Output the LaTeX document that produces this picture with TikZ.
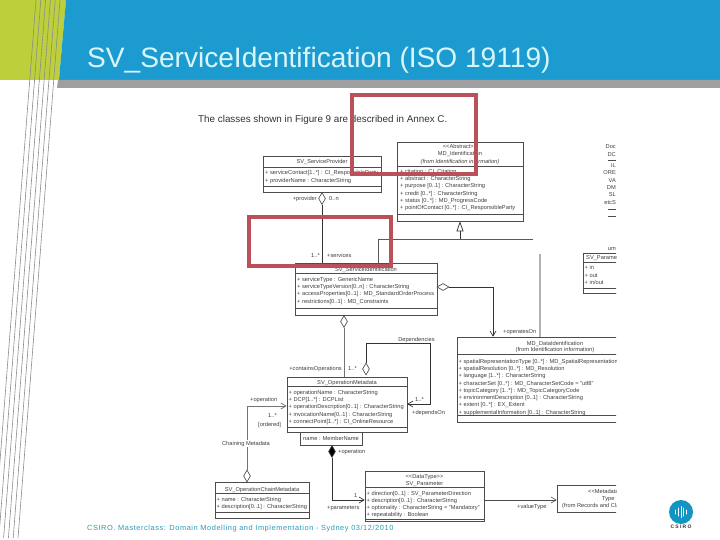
\documentclass[tikz,border=0pt]{standalone}
\usepackage{fontspec}
\setmainfont{Liberation Sans}
\usepackage{xcolor}
\usetikzlibrary{shapes.geometric, arrows.meta, positioning}

\definecolor{slideblue}{HTML}{1B9BD0}
\definecolor{slidegreen}{HTML}{BDCF3B}
\definecolor{slidegray}{HTML}{A09EA0}
\definecolor{titlecyan}{HTML}{D8F6FA}
\definecolor{footteal}{HTML}{2A9BB8}
\definecolor{logoblue}{HTML}{1295C2}
\definecolor{markred}{HTML}{B9505A}

\tikzset{
  classbox/.style={draw=black!70, line width=0.7pt, fill=white, inner sep=0pt},
  classline/.style={draw=black!70, line width=0.6pt},
  classtext/.style={font=\fontsize{5.7}{6}\selectfont, text=black!75, inner sep=0pt, anchor=base},
  attrtext/.style={classtext, anchor=base west},
  rolename/.style={classtext},
  opendiamond/.style={shape=diamond, draw=black!75, fill=white, line width=0.6pt, inner sep=0pt, minimum width=7pt, minimum height=12pt},
  fulldiamond/.style={opendiamond, fill=black},
  assoc/.style={draw=black!80, line width=0.7pt},
  assocgray/.style={draw=black!55, line width=0.8pt},
  openhead/.style={-{Straight Barb[length=5pt,width=6pt]}},
  redmark/.style={draw=markred, line width=4pt, inner sep=0pt}
}

\begin{document}
\begin{tikzpicture}[x=1pt,y=-1pt]
\useasboundingbox (0,0) rectangle (720,540);

% ========== slide background ==========
\fill[white] (0,0) rectangle (720,540);
\fill[slidegreen] (0,0) -- (66,0) -- (59,80) -- (0,80) -- cycle;
\fill[slideblue] (66,0) -- (720,0) -- (720,80) -- (59,80) -- cycle;
\fill[slidegray] (58,80) -- (720,80) -- (720,88) -- (57,88) -- cycle;
\foreach \i in {0,...,5} {
  \draw[black!45, line width=0.6pt] (60-\i*4.8,0) -- (18-\i*4.8,538);
}
\node[font=\fontsize{28.1}{30}\selectfont, text=titlecyan, anchor=base west, inner sep=0pt] (slidetitle) at (87,67.5) {SV\_ServiceIdentification (ISO 19119)};
\node[font=\fontsize{9.85}{11}\selectfont, text=black!80, anchor=base west, inner sep=0pt] (intro) at (198,122.5) {The classes shown in Figure 9 are described in Annex C.};

% ========== class boxes ==========
\node[classbox, minimum width=118pt, minimum height=36pt] (provider) at (322,174) {};
\node[classbox, minimum width=126pt, minimum height=79pt] (mdident) at (460,181.5) {};
\node[classbox, minimum width=142pt, minimum height=52pt] (service) at (366,289) {};
\node[classbox, minimum width=120pt, minimum height=55pt] (operation) at (347,404.5) {};
\node[classbox, classtext, anchor=center, minimum width=62pt, minimum height=13pt] (membername) at (331,438.5) {name : MemberName};
\node[classbox, minimum width=94pt, minimum height=36pt] (chain) at (262,500) {};
\node[classbox, minimum width=119pt, minimum height=50pt] (parameter) at (424.5,496) {};

% Compartment rules
\draw[classline] (263,167) -- (381,167) (263,186) -- (381,186);
\draw[classline] (397,166) -- (523,166) (397,214) -- (523,214);
\draw[classline] (295,273) -- (437,273) (295,308) -- (437,308);
\draw[classline] (287,386) -- (407,386) (287,427) -- (407,427);
\draw[classline] (215,493) -- (309,493) (215,512) -- (309,512);
\draw[classline] (365,487) -- (484,487) (365,519) -- (484,519);

% SV_ServiceProvider
\node[classtext] (providername) at (322,164) {SV\_ServiceProvider};
\foreach \txt [count=\i] in {{+ serviceContact[1..*] : CI\_ResponsibleParty}, {+ providerName : CharacterString}} {
  \node[attrtext] (providerattr\i) at (265,{167.8+\i*7.2}) {\txt};
}

% MD_Identification
\node[classtext] (mdstereo) at (460,149) {<{}<Abstract>{}>};
\node[classtext] (mdname) at (460,156) {MD\_Identification};
\node[classtext, font=\fontsize{5.7}{6}\itshape] (mdfrom) at (460,164) {(from Identification information)};
\foreach \txt [count=\i] in {{+ citation : CI\_Citation}, {+ abstract : CharacterString}, {+ purpose [0..1] : CharacterString}, {+ credit [0..*] : CharacterString}, {+ status [0..*] : MD\_ProgressCode}, {+ pointOfContact [0..*] : CI\_ResponsibleParty}} {
  \node[attrtext] (mdattr\i) at (400,{166+\i*7.3}) {\txt};
}

% SV_ServiceIdentification
\node[classtext] (servicename) at (366,271) {SV\_ServiceIdentification};
\foreach \txt [count=\i] in {{+ serviceType : GenericName}, {+ serviceTypeVersion[0..n] : CharacterString}, {+ accessProperties[0..1] : MD\_StandardOrderProcess}, {+ restrictions[0..1] : MD\_Constraints}} {
  \node[attrtext] (serviceattr\i) at (297,{274+\i*7.3}) {\txt};
}

% SV_OperationMetadata
\node[classtext] (operationname) at (347,384.5) {SV\_OperationMetadata};
\foreach \txt [count=\i] in {{+ operationName : CharacterString}, {+ DCP[1..*] : DCPList}, {+ operationDescription[0..1] : CharacterString}, {+ invocationName[0..1] : CharacterString}, {+ connectPoint[1..*] : CI\_OnlineResource}} {
  \node[attrtext] (operationattr\i) at (288.5,{387+\i*7.3}) {\txt};
}

% SV_OperationChainMetadata
\node[classtext] (chainname) at (262,491) {SV\_OperationChainMetadata};
\foreach \txt [count=\i] in {{+ name : CharacterString}, {+ description[0..1] : CharacterString}} {
  \node[attrtext] (chainattr\i) at (216.5,{494+\i*7.2}) {\txt};
}

% SV_Parameter
\node[classtext] (paramstereo) at (424.5,478) {<{}<DataType>{}>};
\node[classtext] (paramname) at (424.5,485) {SV\_Parameter};
\foreach \txt [count=\i] in {{+ direction[0..1] : SV\_ParameterDirection}, {+ description[0..1] : CharacterString}, {+ optionality : CharacterString = "Mandatory"}, {+ repeatability : Boolean}} {
  \node[attrtext] (paramattr\i) at (366.5,{488+\i*7.2}) {\txt};
}

% ========== boxes cut by the right edge of the figure ==========
\begin{scope}
  \clip (0,0) rectangle (616,540);
  \node[classbox, minimum width=183pt, minimum height=85pt] (dataident) at (548.5,379.5) {};
  \node[classbox, minimum width=83pt, minimum height=27pt] (typebox) at (598.5,498.5) {};
  \node[classbox, minimum width=57pt, minimum height=40pt] (enumbox) at (611.5,273) {};
  \draw[classline] (457,354) -- (640,354) (457,415) -- (640,415);
  \draw[classline] (583,262) -- (640,262) (583,288) -- (640,288);

  \node[classtext] (dataname) at (555,345) {MD\_DataIdentification};
  \node[classtext] (datafrom) at (555,351.5) {(from Identification information)};
  \foreach \txt [count=\i] in {{+ spatialRepresentationType [0..*] : MD\_SpatialRepresentationTypeCode}, {+ spatialResolution [0..*] : MD\_Resolution}, {+ language [1..*] : CharacterString}, {+ characterSet [0..*] : MD\_CharacterSetCode = "utf8"}, {+ topicCategory [1..*] : MD\_TopicCategoryCode}, {+ environmentDescription [0..1] : CharacterString}, {+ extent [0..*] : EX\_Extent}, {+ supplementalInformation [0..1] : CharacterString}} {
    \node[attrtext] (dataattr\i) at (458.5,{356+\i*7.25}) {\txt};
  }

  \node[attrtext] (typestereo) at (588,493) {<{}<Metadata>{}>};
  \node[attrtext] (typename) at (602,500) {Type};
  \node[attrtext] (typefrom) at (562,507.5) {(from Records and Class};

  \node[classtext, anchor=base east] (enumstereo) at (616,251) {um};
  \node[attrtext] (enumname) at (586,259.5) {SV\_Parameter};
  \foreach \txt [count=\i] in {{+ in}, {+ out}, {+ in/out}} {
    \node[attrtext] (enumattr\i) at (584.5,{262.5+\i*7.4}) {\txt};
  }
\end{scope}

% Scraps of a further class at the right edge
\foreach \txt [count=\i] in {Doc, DC, IL, ORE, VA, DM, SL, etcS} {
  \ifnum\i>2
    \node[classtext, anchor=base east] (scrap\i) at (616,{152.5+(\i-1)*7.4}) {\txt};
  \else
    \node[classtext, anchor=base east] (scrap\i) at (616,{141+\i*7.7}) {\txt};
  \fi
}
\foreach \ry in {160,209,216} {
  \draw[classline] (608,\ry) -- (616,\ry);
}

% ========== connectors ==========
% Provider to service
\node[opendiamond] (providerdia) at (322,198.5) {};
\draw[assoc] (providerdia.south) -- (providerdia.south |- service.north);
\node[rolename, anchor=base east] (providerrole) at (317,201) {+provider};
\node[rolename, anchor=base west] (providermult) at (329,201) {0..n};
\node[rolename, anchor=base east] (servicesmult) at (320,258) {1..*};
\node[rolename, anchor=base west] (servicesrole) at (327,258) {+services};

% Generalisation into MD_Identification
\coordinate (genbar) at (460,239);
\coordinate (genleft) at (378,239);
\coordinate (genright) at (533,239);
\coordinate (sidetop) at (540,254);
\draw[assoc, -{Triangle[open, length=10pt, width=7pt, fill=white]}] (genbar) -- (genbar |- mdident.south);
\draw[assoc, draw=black!65] (genleft |- service.north) -- (genleft) -- (genright);
\draw[assocgray, line width=1.1pt, draw=black!30] (sidetop) -- (sidetop |- dataident.north);

% Service to data identification
\node[opendiamond, minimum width=12pt, minimum height=7pt] (operatesdia) at (443,287) {};
\coordinate (operatesbend) at (493,287);
\draw[assoc, openhead] (operatesdia.east) -- (operatesbend) -- (operatesbend |- dataident.north);
\node[rolename, anchor=base west] (operatesrole) at (503,333) {+operatesOn};

% Service to operations
\node[opendiamond] (containsdia) at (344,321.5) {};
\draw[assocgray] (containsdia.south) -- (containsdia.south |- operation.north);
\node[rolename, anchor=base east] (containsrole) at (342,370) {+containsOperations};
\node[rolename, anchor=base west] (containsmult) at (348,370) {1..*};

% Dependencies loop
\node[opendiamond] (dependsdia) at (366,369) {};
\coordinate (loopleft) at (366,343);
\coordinate (loopright) at (430,343);
\coordinate (loopend) at (430,404);
\draw[assoc, openhead] (dependsdia.north) -- (loopleft) -- (loopright) -- (loopend) -- (loopend -| operation.east);
\node[rolename] (dependslabel) at (416.5,341) {Dependencies};
\node[rolename, anchor=base west] (dependsmult) at (415,401) {1..*};
\node[rolename, anchor=base west] (dependsrole) at (412,414) {+dependsOn};

% Operation chain
\node[opendiamond] (chaindia) at (247,476) {};
\coordinate (chainbend) at (247,406);
\draw[assocgray, openhead] (chaindia.north) -- (chainbend) -- (chainbend -| operation.west);
\node[rolename, anchor=base west] (chainrole) at (250,401) {+operation};
\node[rolename, anchor=base west] (chainmult) at (268,417) {1..*};
\node[rolename, anchor=base west] (chainorder) at (258,426) {[ordered]};
\node[rolename, anchor=base, fill=white, inner sep=1pt] (chainlabel) at (246,445) {Chaining Metadata};

% Operation to parameter
\node[fulldiamond] (paramdia) at (332,451.5) {};
\coordinate (parambend) at (332,500);
\draw[assoc, openhead] (paramdia.south) -- (parambend) -- (parambend -| parameter.west);
\node[rolename, anchor=base west] (paramrole) at (338,453) {+operation};
\node[rolename, anchor=base west] (parammult) at (354,497) {1};
\node[rolename, anchor=base west] (paramrole2) at (327,509) {+parameters};

% Parameter to type
\coordinate (typeend) at (484,500);
\draw[assocgray, line width=0.6pt, draw=black!70, openhead] (typeend) -- (typeend -| typebox.west);
\node[rolename, anchor=base west] (typerole) at (517,508) {+valueType};

% ========== red highlight frames ==========
\node[redmark, minimum width=124pt, minimum height=79pt] (markupper) at (414,134.5) {};
\node[redmark, minimum width=142pt, minimum height=49pt] (marklower) at (320,241.5) {};

% ========== footer ==========
\node[font=\fontsize{7.4}{9}\selectfont\addfontfeatures{LetterSpace=7.7}, text=footteal, anchor=base west, inner sep=0pt] (footer) at (87,530) {CSIRO. Masterclass: Domain Modelling and Implementation - Sydney 03/12/2010};
\fill[logoblue] (681,512) circle (12);
\foreach \bx/\bh in {-5.5/2, -2.8/4, 0/5.5, 2.8/4, 5.5/2} {
  \draw[white, line width=1pt, line cap=round] (681+\bx,512-\bh) -- (681+\bx,512+\bh);
}
\node[font=\fontsize{5}{6}\bfseries\addfontfeatures{LetterSpace=25}, text=black!80, inner sep=0pt] (logotext) at (681,527) {CSIRO};

\end{tikzpicture}
\end{document}
